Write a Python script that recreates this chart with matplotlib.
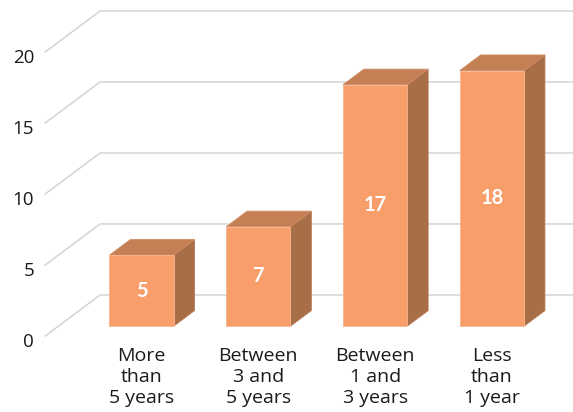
import matplotlib
matplotlib.use("Agg")
import matplotlib.pyplot as plt
from matplotlib.patches import Polygon

plt.rcParams["font.family"] = ["Open Sans", "DejaVu Sans"]

categories = ["More\nthan\n5 years", "Between\n3 and\n5 years", "Between\n1 and\n3 years", "Less\nthan\n1 year"]
values = [5, 7, 17, 18]
yticks = [0, 5, 10, 15, 20]

FRONT = "#F79E6B"
TOP = "#C47F55"
SIDE = "#A86E48"
EDGE = "#F9B48E"
GRID = "#D4D4D4"

# oblique projection: wall depth in data units (x in category slots, y in value units)
DX, DY = 0.47, 2.89
BAR_W = 0.55
BAR_F0, BAR_F1 = 0.24, 0.62   # bar front/back depth as fraction of wall depth
GRID_X0 = -0.825


def depth(x, y, f):
    return (x + f * DX, y + f * DY)


fig = plt.figure(figsize=(5.73, 4.12), dpi=100)
ax = fig.add_axes([0, 0, 1, 1])
ax.set_xlim(-1.212, 3.694)
ax.set_ylim(-5.35, 23.66)
ax.axis("off")

# gridlines run from the front edge diagonally back, then across the back wall
for v in yticks:
    bx, by = depth(GRID_X0, v, 1.0)
    ax.plot([GRID_X0, bx, 3.694], [v, by, by], color=GRID, lw=1.1, zorder=1)
    ax.text(GRID_X0 - 0.095, v - 0.4, str(v), ha="right", va="center",
            fontsize=13.5, color="#1a1a1a")

for i, (cat, v) in enumerate(zip(categories, values)):
    x0, x1 = i - BAR_W / 2, i + BAR_W / 2
    base = BAR_F0 * DY
    front = [(x0, base), (x1, base), (x1, base + v), (x0, base + v)]
    off = BAR_F1 - BAR_F0
    br = (x1 + off * DX, base + off * DY)
    btr = (x1 + off * DX, base + v + off * DY)
    btl = (x0 + off * DX, base + v + off * DY)
    side = [(x1, base), br, btr, (x1, base + v)]
    top = [(x0, base + v), (x1, base + v), btr, btl]
    ax.add_patch(Polygon(side, closed=True, fc=SIDE, ec="#B87A52", lw=0.6, zorder=2))
    ax.add_patch(Polygon(top, closed=True, fc=TOP, ec="#D08D63", lw=0.6, zorder=2))
    ax.add_patch(Polygon(front, closed=True, fc=FRONT, ec=EDGE, lw=0.6, zorder=3))
    ax.text(i, base + v / 2, str(v), ha="center", va="center", family=["Lato", "DejaVu Sans"],
            fontsize=14.5, fontweight="bold", color="white", zorder=4)
    ax.text(i, -0.8, cat, ha="center", va="top", fontsize=14,
            linespacing=1.2, color="#1a1a1a")

fig.savefig("out.png", dpi=100)
